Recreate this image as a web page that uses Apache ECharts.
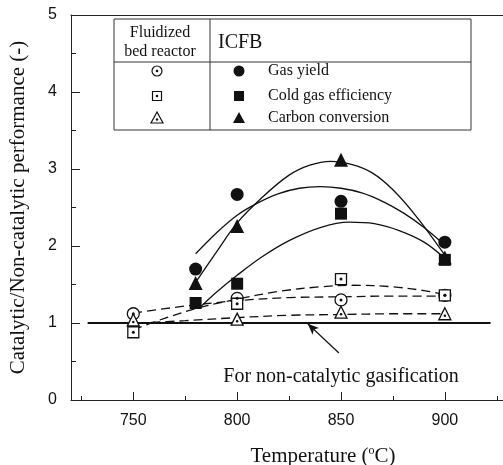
<!DOCTYPE html>
<html>
<head>
<meta charset="utf-8">
<script src="https://cdn.jsdelivr.net/npm/echarts@6/dist/echarts.min.js"></script>
<style>
  html, body { margin: 0; padding: 0; background: #fff; }
  #chart { width: 503px; height: 465px; }
</style>
</head>
<body>
<div id="chart"></div>
<script>
// Catalytic / non-catalytic performance vs temperature
const majorTicksX = [750, 800, 850, 900];
const minorTicksX = [725, 775, 825, 875, 925];

// ICFB measured points [temperature, ratio]
const icfbGas    = [[780, 1.70], [800, 2.67], [850, 2.58], [900, 2.05]];
const icfbCge    = [[780, 1.26], [800, 1.51], [850, 2.42], [900, 1.82]];
const icfbCarbon = [[780, 1.52], [800, 2.26], [850, 3.12], [900, 1.85]];

// Fluidized bed reactor points
const fbrGas    = [[750, 1.12], [800, 1.32], [850, 1.30], [900, 1.36]];
const fbrCge    = [[750, 0.88], [800, 1.25], [850, 1.57], [900, 1.36]];
const fbrCarbon = [[750, 1.04], [800, 1.05], [850, 1.14], [900, 1.12]];

// trend curves
const trendIcfbCarbon = [[779, 1.49], [790, 1.92], [800, 2.30], [812, 2.63], [825, 2.92], [835, 3.05],
                         [845, 3.10], [855, 3.06], [865, 2.95], [875, 2.73], [887, 2.36], [900, 1.88]];
const trendIcfbGas    = [[780, 1.90], [790, 2.17], [800, 2.40], [810, 2.56], [820, 2.68], [830, 2.75],
                         [840, 2.77], [850, 2.75], [860, 2.69], [870, 2.58], [880, 2.43], [890, 2.24], [900, 2.01]];
const trendIcfbCge    = [[782, 1.20], [790, 1.40], [800, 1.62], [812, 1.86], [825, 2.07], [840, 2.24],
                         [854, 2.31], [866, 2.29], [878, 2.20], [890, 2.05], [900, 1.84]];
const trendFbrCge     = [[750, 0.91], [765, 1.06], [782, 1.20], [800, 1.31], [820, 1.41], [840, 1.47],
                         [856, 1.49], [875, 1.47], [890, 1.42], [900, 1.37]];
const trendFbrGas     = [[750, 1.13], [775, 1.22], [800, 1.29], [825, 1.33], [850, 1.34], [875, 1.35], [900, 1.35]];
const trendFbrCarbon  = [[752, 1.00], [775, 1.03], [800, 1.07], [825, 1.10], [850, 1.11], [875, 1.12], [900, 1.12]];

// non-catalytic reference line and its annotation arrow
const baseline = [[728, 1], [922, 1]];
const arrowFrom = [849, 0.61];
const arrowTo = [834, 0.99];

const INK = '#111';
const SERIF = '"Liberation Serif", "Times New Roman", serif';
const SANS = '"Liberation Sans", Arial, sans-serif';

const chart = echarts.init(document.getElementById('chart'), null, { renderer: 'canvas' });

function curve(data, dashed) {
    return {
        type: 'line', data, smooth: 0.35, symbol: 'none', silent: true,
        lineStyle: { color: INK, width: 1.3, type: dashed ? [9, 5] : 'solid' },
        z: 2,
    };
}
function marks(data, symbol, size, filled, z) {
    return {
        type: 'scatter', data, symbol, symbolSize: size,
        itemStyle: filled
            ? { color: INK, opacity: 1 }
            : { color: '#fff', borderColor: INK, borderWidth: 1.3, opacity: 1 },
        z: z || 3,
    };
}
function dots(data, size, offset) {
    return {
        type: 'scatter', data, symbol: 'circle', symbolSize: size,
        symbolOffset: offset || [0, 0],
        itemStyle: { color: INK, opacity: 1 }, z: 6,
    };
}

const legendText = (text, x, y, size, align) => ({
    type: 'text', x, y, z: 20,
    style: { text, font: `${size}px ${SERIF}`, fill: INK, align: align || 'left', verticalAlign: 'middle' },
});

chart.setOption({
    animation: false,
    backgroundColor: '#fff',
    grid: { left: 71, right: 0, top: 15, bottom: 65, containLabel: false },
    xAxis: [
        {
            type: 'value', min: 720, max: 928, position: 'bottom',
            axisLine: { lineStyle: { color: '#222', width: 1 } },
            axisTick: { inside: true, length: 8, customValues: majorTicksX, lineStyle: { color: '#222' } },
            axisLabel: { customValues: majorTicksX, color: INK, fontSize: 16, fontFamily: SANS, margin: 13 },
            splitLine: { show: false },
        },
        {
            type: 'value', min: 720, max: 928, position: 'bottom',
            axisLine: { show: false },
            axisTick: { inside: true, length: 4, customValues: minorTicksX, lineStyle: { color: '#222' } },
            axisLabel: { show: false },
            splitLine: { show: false },
        },
        {
            type: 'value', min: 720, max: 928, position: 'top',
            axisLine: { show: true, lineStyle: { color: '#222', width: 1.2 } },
            axisTick: { show: false }, axisLabel: { show: false }, splitLine: { show: false },
        },
    ],
    yAxis: {
        type: 'value', min: 0, max: 5, interval: 1,
        name: 'Catalytic/Non-catalytic performance (-)',
        nameLocation: 'middle', nameGap: 42, nameRotate: 90,
        nameTextStyle: { fontFamily: SERIF, fontSize: 21, color: INK },
        axisLine: { show: true, lineStyle: { color: '#222', width: 1 } },
        axisTick: { inside: true, length: 9, lineStyle: { color: '#222' } },
        minorTick: { show: true, splitNumber: 2, length: 5, lineStyle: { color: '#222' } },
        axisLabel: { color: INK, fontSize: 16, fontFamily: SANS, margin: 14 },
        splitLine: { show: false },
    },
    graphic: [
        {
            type: 'rect', z: 15,
            shape: { x: 114, y: 19, width: 357, height: 111 },
            style: { fill: '#fff', stroke: '#333', lineWidth: 1 },
        },
        { type: 'line', z: 16, shape: { x1: 210, y1: 19, x2: 210, y2: 130 }, style: { stroke: '#333', lineWidth: 1 } },
        { type: 'line', z: 16, shape: { x1: 114, y1: 62, x2: 471, y2: 62 }, style: { stroke: '#333', lineWidth: 1 } },
        legendText('Fluidized', 160, 33, 16, 'center'),
        legendText('bed reactor', 160, 52, 16, 'center'),
        legendText('ICFB', 218, 43, 20),
        legendText('Gas yield', 268, 71, 16),
        legendText('Cold gas efficiency', 268, 96, 16),
        legendText('Carbon conversion', 268, 118, 16),
        // fluidized bed reactor keys
        { type: 'circle', z: 20, shape: { cx: 157, cy: 71, r: 5 }, style: { fill: '#fff', stroke: INK, lineWidth: 1.2 } },
        { type: 'circle', z: 21, shape: { cx: 157, cy: 71, r: 1.3 }, style: { fill: INK } },
        { type: 'rect', z: 20, shape: { x: 152.5, y: 91.5, width: 9, height: 9 }, style: { fill: '#fff', stroke: INK, lineWidth: 1.2 } },
        { type: 'circle', z: 21, shape: { cx: 157, cy: 96, r: 1.3 }, style: { fill: INK } },
        { type: 'polygon', z: 20, shape: { points: [[157, 112], [151, 123], [163, 123]] }, style: { fill: '#fff', stroke: INK, lineWidth: 1.2 } },
        { type: 'circle', z: 21, shape: { cx: 157, cy: 119.5, r: 1.2 }, style: { fill: INK } },
        // ICFB keys
        { type: 'circle', z: 20, shape: { cx: 239, cy: 71, r: 5.5 }, style: { fill: INK } },
        { type: 'rect', z: 20, shape: { x: 234, y: 91, width: 10, height: 10 }, style: { fill: INK } },
        { type: 'polygon', z: 20, shape: { points: [[239, 112], [233, 123], [245, 123]] }, style: { fill: INK } },
        // axis title and annotation
        {
            type: 'text', x: 323, y: 456, z: 20,
            style: {
                text: 'Temperature ({sup|o}C)', font: `21px ${SERIF}`, fill: INK,
                align: 'center', verticalAlign: 'middle',
                rich: { sup: { fontSize: 12, fontFamily: SERIF, verticalAlign: 'top', padding: [0, 0, 10, 0] } },
            },
        },
        legendText('For non-catalytic gasification', 341, 377, 20, 'center'),
    ],
    series: [
        {
            type: 'line', data: baseline, symbol: 'none', silent: true,
            lineStyle: { color: INK, width: 2 }, z: 2,
            markLine: {
                silent: true, symbol: ['none', 'arrow'], symbolSize: [7, 11],
                label: { show: false },
                lineStyle: { color: INK, width: 1.2, type: 'solid' },
                data: [[{ coord: arrowFrom }, { coord: arrowTo }]],
            },
        },
        curve(trendIcfbCarbon, false),
        curve(trendIcfbGas, false),
        curve(trendIcfbCge, false),
        curve(trendFbrCge, true),
        curve(trendFbrGas, true),
        curve(trendFbrCarbon, true),
        marks(icfbGas, 'circle', 13, true),
        marks(icfbCge, 'rect', 12, true),
        marks(icfbCarbon, 'triangle', 14, true),
        marks(fbrGas, 'circle', 12, false, 3),
        marks(fbrCarbon, 'triangle', 12, false, 4),
        marks(fbrCge, 'rect', 11, false, 5),
        dots(fbrGas, 3),
        dots(fbrCge, 3),
        dots(fbrCarbon, 2.5, [0, 2]),
    ],
});
</script>
</body>
</html>
